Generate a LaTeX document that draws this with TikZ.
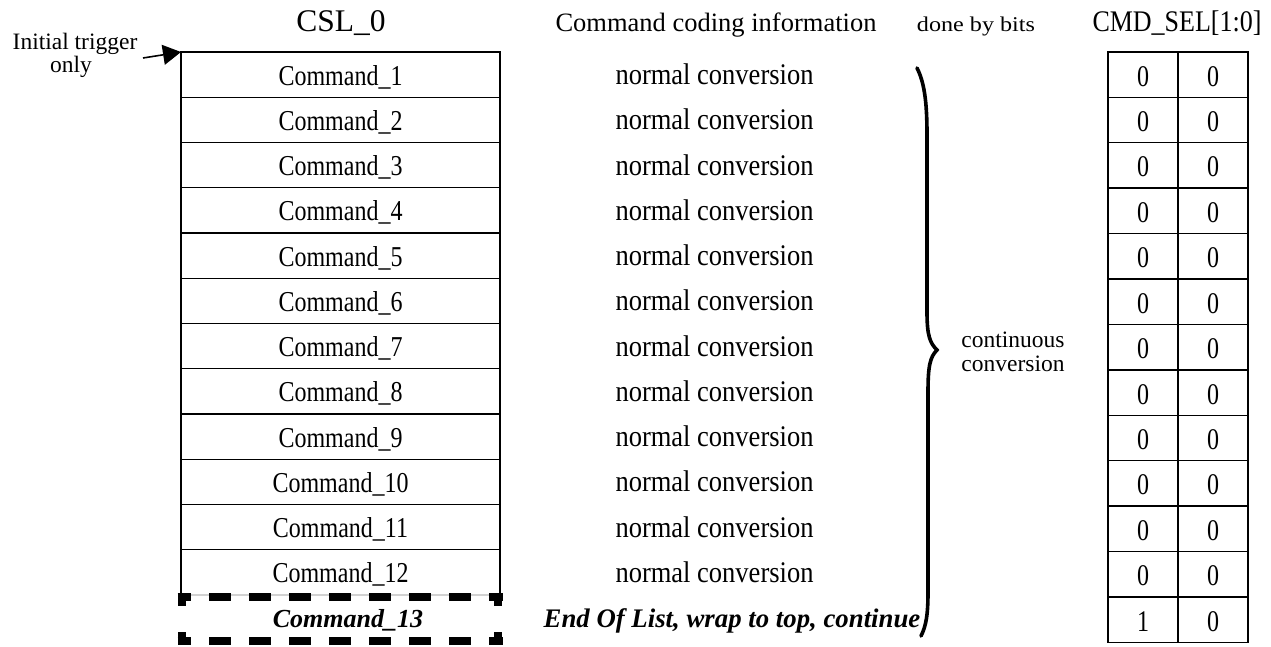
\documentclass[tikz,border=0pt]{standalone}
\usepackage{fontspec}
\usepackage{graphicx}
\setmainfont{Liberation Serif}
\usetikzlibrary{arrows.meta}
\newcommand{\vstr}[2]{\scalebox{1}[#1]{#2}}
\begin{document}
\begin{tikzpicture}[x=1pt,y=-1pt,
  txt/.style={inner sep=0pt, anchor=base, font=\fontsize{24}{30}\selectfont},
  conv/.style={inner sep=0pt, anchor=base, font=\fontsize{26.5}{30}\selectfont},
  small/.style={inner sep=0pt, anchor=base, font=\fontsize{23.5}{28}\selectfont},
  big/.style={inner sep=0pt, anchor=base, font=\fontsize{31.5}{36}\selectfont},
  bi/.style={inner sep=0pt, anchor=base, font=\fontsize{26}{30}\selectfont\bfseries\itshape},
  cell/.style={draw, line width=1.4pt, minimum width=319pt, minimum height=45.25pt, inner sep=0pt, outer sep=0pt},
  bit/.style={draw, line width=1.4pt, minimum width=70pt, minimum height=45.4pt, inner sep=0pt, outer sep=0pt},
  hdash/.style={line width=8.5pt, dash pattern=on 22pt off 18pt, dash phase=8.5pt},
  vdash/.style={line width=8.5pt, dash pattern=on 9pt off 26pt},
  brace/.style={line width=3.6pt, line cap=round},
  trig/.style={line width=1.6pt, -{Triangle[length=18pt,width=20pt]}}]
\useasboundingbox (0,0) rectangle (1271,647);

% headers
\node[big] (hcsl) at (341,32) {CSL\_0};
\node[conv] (hcode) at (716,32) {Command coding information};
\node[small, font=\fontsize{21}{26}\selectfont] (hdone) at (976,32) {\scalebox{1.15}[1]{done by bits}};
\node[txt, font=\fontsize{26}{30}\selectfont] (hsel) at (1177,32) {\vstr{1.15}{CMD\_SEL[1:0]}};

% left table
\foreach \k in {1,...,12}{
  \node[cell] (c\k) at (340.5,{52+45.25*(\k-1)+22.625}) {};
  \node[txt] (ct\k) at ([yshift=-10.5pt]c\k.center) {\vstr{1.2}{Command\_\k}};
  \node[conv] (nc\k) at ([xshift=374pt,yshift=-10pt]c\k.center) {\vstr{1.13}{normal conversion}};
}
\draw[gray!35, line width=1.6pt] (c12.south west) -- (c12.south east);

% dashed last entry
\node[minimum width=316pt, minimum height=44pt, inner sep=0pt, outer sep=0pt] (c13) at (340,619) {};
\draw[hdash] ([xshift=-4.5pt]c13.north west) -- ([xshift=4.5pt]c13.north east);
\draw[hdash] ([xshift=-4.5pt]c13.south west) -- ([xshift=4.5pt]c13.south east);
\draw[vdash] (c13.north west) -- (c13.south west);
\draw[vdash] (c13.north east) -- (c13.south east);
\node[bi] (ct13) at (348,627) {Command\_13};
\node[bi, font=\fontsize{26.8}{30}\selectfont\bfseries\itshape] (eol) at (732,627) {End Of List, wrap to top, continue};

% right table
\foreach \k/\a in {1/0,2/0,3/0,4/0,5/0,6/0,7/0,8/0,9/0,10/0,11/0,12/0,13/1}{
  \node[bit] (ra\k) at (1143,{52+45.4*(\k-1)+22.7}) {};
  \node[bit] (rb\k) at (1213,{52+45.4*(\k-1)+22.7}) {};
  \node[txt] (ta\k) at ([yshift=-11.5pt]ra\k.center) {\vstr{1.25}{\a}};
  \node[txt] (tb\k) at ([yshift=-11.5pt]rb\k.center) {\vstr{1.25}{0}};
}
\draw[line width=2.6pt] (ra1.north east) -- (ra13.south east);

% trigger
\node[small] (trig) at (75,50) {Initial trigger};
\node[small] (only) at (71,72.5) {only};
\coordinate (ts) at (143,58);
\draw[trig] (ts) -- (c1.north west);

% brace
\draw[brace] (917,68) .. controls (924,82) and (927,100) .. (927,135) -- (927,312)
  .. controls (927,336) and (930,343) .. (937,350)
  .. controls (930,357) and (928,366) .. (928,392) -- (928,592)
  .. controls (928,615) and (926,626) .. (921,636);
\node[small] (cc1) at (1013,347) {continuous};
\node[small] (cc2) at (1013,371) {conversion};
\end{tikzpicture}
\end{document}
